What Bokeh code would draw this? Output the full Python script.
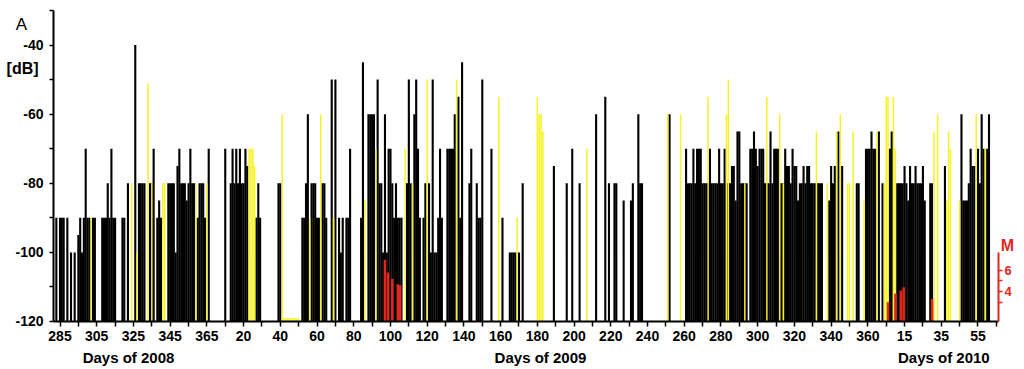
from bokeh.plotting import figure
from bokeh.models import Range1d, LinearAxis, FixedTicker, Label, ColumnDataSource
from bokeh.embed import file_html
from bokeh.resources import INLINE

# day index: 0 = day 285 of 2008, 100 = day 20 of 2009, 460 = day 15 of 2010
black_bars = [
    (-2, -90), (0, -90), (1, -90), (2, -90), (4, -90), (6, -100), (8, -100),
    (10, -95), (11, -90), (12, -100), (13, -90), (14, -70), (15, -90), (16, -90),
    (18, -90), (19, -90), (23, -90), (24, -90), (25, -90), (26, -80), (27, -90),
    (28, -70), (29, -90), (30, -90), (34, -90), (35, -90), (37, -80), (41, -40),
    (43, -80), (44, -80), (45, -80), (46, -80), (49, -80), (50, -80), (51, -70),
    (53, -90), (54, -85), (55, -90), (59, -80), (60, -80), (61, -80), (62, -80), (63, -100),
    (64, -75), (65, -70), (66, -80), (67, -80), (68, -80), (69, -85), (70, -80),
    (71, -70), (72, -80), (73, -80), (75, -90), (76, -80), (77, -80), (78, -80), (79, -90),
    (81, -70), (90, -70), (93, -80), (94, -70), (95, -80), (96, -70), (97, -80),
    (98, -70), (99, -80), (100, -80), (101, -70), (102, -75), (107, -90), (108, -80),
    (109, -90), (119, -80), (120, -80), (132, -90), (133, -90), (134, -80), (135, -60),
    (137, -80), (138, -80), (139, -80), (140, -90), (141, -90), (143, -80), (144, -80),
    (145, -90), (148, -50), (150, -50), (152, -90), (153, -100), (154, -90), (156, -90),
    (157, -90), (158, -70), (164, -90), (165, -45), (168, -60), (169, -60), (170, -60),
    (171, -60), (173, -50), (174, -80), (175, -80), (176, -100), (177, -60), (178, -100),
    (179, -70), (180, -70), (181, -80), (182, -90), (183, -80), (184, -90), (185, -90),
    (186, -90), (189, -80), (190, -50), (191, -80), (193, -60), (194, -50), (195, -70),
    (196, -90), (198, -90), (199, -80), (201, -80), (202, -100), (203, -50), (204, -100),
    (205, -100), (206, -90), (207, -70), (208, -90), (211, -70), (212, -70), (213, -70),
    (214, -70), (215, -60), (217, -55), (218, -90), (219, -45), (223, -80), (224, -70),
    (227, -80), (228, -90), (229, -90), (230, -50), (235, -70), (241, -90), (245, -100),
    (246, -100), (247, -100), (248, -100), (250, -100), (252, -80), (269, -75), (276, -80),
    (279, -70), (283, -80), (292, -60), (297, -55), (299, -80), (302, -80), (303, -80),
    (307, -85), (311, -85), (312, -80), (315, -60), (316, -80), (317, -80), (332, -60),
    (341, -70), (342, -80), (343, -80), (344, -80), (345, -70), (346, -80), (347, -70),
    (348, -70), (349, -70), (350, -80), (351, -80), (352, -80), (353, -80), (354, -70),
    (355, -80), (356, -80), (357, -80), (358, -80), (359, -70), (360, -80), (361, -80),
    (362, -70), (363, -80), (364, -80), (365, -80), (366, -75), (367, -75), (368, -85),
    (369, -65), (370, -65), (371, -80), (372, -80), (373, -80), (374, -80), (376, -70),
    (377, -70), (378, -65), (379, -70), (380, -75), (381, -70), (382, -70), (383, -70),
    (384, -80), (385, -80), (386, -80), (387, -65), (388, -80), (389, -70), (390, -70),
    (391, -70), (392, -80), (393, -80), (394, -80), (395, -70), (396, -75), (397, -75),
    (398, -80), (399, -70), (400, -75), (401, -75), (402, -85), (403, -80), (404, -80),
    (405, -75), (406, -80), (407, -75), (408, -75), (409, -80), (410, -80), (411, -80),
    (412, -80), (413, -80), (414, -80), (415, -80), (419, -85), (420, -75), (421, -80),
    (422, -75), (424, -65), (426, -75),
    (434, -80), (435, -80), (439, -70), (440, -70), (441, -70), (442, -65), (443, -70),
    (444, -70), (446, -65), (448, -80), (452, -70), (453, -65), (456, -80), (457, -80),
    (458, -80), (459, -80), (460, -75), (461, -80), (462, -85), (463, -75), (464, -80),
    (465, -80), (466, -75), (467, -80), (468, -80), (469, -80), (470, -75), (471, -85),
    (474, -80), (475, -80), (482, -75), (491, -60), (492, -85), (493, -85), (494, -85),
    (495, -80), (496, -70), (497, -75), (498, -75), (500, -70), (501, -80), (502, -60),
    (503, -70), (505, -70), (506, -60),
]

yellow_bars = [
    (17, -90), (39, -80), (42, -100), (48, -51), (50, -80), (56, -80), (57, -80),
    (74, -80), (80, -80), (103, -70), (104, -70), (105, -70), (106, -75), (121, -60),
    (122, -119), (123, -119), (124, -119), (125, -119), (126, -119), (127, -119),
    (128, -119), (129, -119), (130, -119), (136, -90), (142, -60), (149, -90),
    (166, -85), (172, -70), (188, -70), (192, -80), (200, -50), (216, -50), (239, -55),
    (249, -90), (260, -55), (261, -60), (262, -60), (263, -65), (287, -70), (331, -60),
    (338, -60), (353, -55), (363, -60), (364, -50), (373, -80), (385, -55), (392, -60),
    (394, -80), (412, -65), (418, -80), (423, -65), (425, -60), (429, -80), (430, -80),
    (432, -65), (438, -85), (445, -65), (449, -80), (450, -55), (451, -55), (454, -55),
    (455, -70), (476, -65), (478, -60), (483, -85), (484, -65), (485, -70), (490, -85),
    (499, -60), (504, -70),
]

quakes = [
    (177, 7.0), (178.6, 5.8), (181, 5.2), (184, 4.7), (185.3, 4.6),
    (451, 3.0), (455, 3.8), (458, 4.1), (459.5, 4.4), (475, 3.3),
]

x_tick_days = list(range(0, 511, 10))
x_tick_labels = {0: "285", 20: "305", 40: "325", 60: "345", 80: "365",
                 100: "20", 120: "40", 140: "60", 160: "80", 180: "100",
                 200: "120", 220: "140", 240: "160", 260: "180", 280: "200",
                 300: "220", 320: "240", 340: "260", 360: "280", 380: "300",
                 400: "320", 420: "340", 440: "360", 460: "15", 480: "35", 500: "55"}
y_ticks = list(range(-120, -29, 10))
y_tick_labels = {-40: "-40", -60: "-60", -80: "-80", -100: "-100", -120: "-120"}
mag_ticks = [3, 4, 5, 6]
mag_tick_labels = {4: "4", 6: "6"}
year_titles = [(37.3, "Days of 2008"), (261.7, "Days of 2009"), (481.4, "Days of 2010")]

FONT = "Liberation Sans"
RED = "#E3261C"
YELLOW = "#F8F21E"

X_LO, X_HI = -3.54, 511.2      # extent of the drawn axes
DB_LO, DB_HI = -120, -30
M_LO, M_HI = 1.18, 7.72

p = figure(width=1024, height=369, x_range=Range1d(-32.41, 525.33),
           y_range=Range1d(-133.89, -27.12),
           output_backend="svg", toolbar_location=None)
p.min_border = 0
p.min_border_left = 0
p.min_border_right = 0
p.min_border_top = 0
p.min_border_bottom = 0
p.outline_line_color = None
p.grid.visible = False
p.background_fill_color = "white"
p.extra_y_ranges = {"mag": Range1d(-3.35, 31.46)}

bsrc = ColumnDataSource(dict(x=[b[0] for b in black_bars], top=[b[1] for b in black_bars]))
ysrc = ColumnDataSource(dict(x=[b[0] for b in yellow_bars], top=[b[1] for b in yellow_bars]))
qsrc = ColumnDataSource(dict(x=[q[0] for q in quakes], top=[q[1] for q in quakes]))

p.vbar(x="x", top="top", bottom=DB_LO, width=1.15, source=bsrc, fill_color="black", line_color=None)
p.vbar(x="x", top="top", bottom=DB_LO, width=0.8, source=ysrc, fill_color=YELLOW, line_color=None)
p.vbar(x="x", top="top", bottom=M_LO, width=1.4, source=qsrc, fill_color=RED, line_color=None,
       y_range_name="mag")

for ax in (p.xaxis[0], p.yaxis[0]):
    ax.axis_line_width = 2
    ax.axis_line_color = "black"
    ax.major_tick_line_width = 1.5
    ax.major_tick_in = 0
    ax.major_tick_out = 5
    ax.minor_tick_line_color = None
    ax.major_label_text_font = FONT
    ax.major_label_text_font_style = "bold"
    ax.major_label_text_font_size = "14px"
    ax.major_label_text_color = "black"

xa = p.xaxis[0]
xa.fixed_location = DB_LO
xa.bounds = (X_LO, X_HI)
xa.ticker = FixedTicker(ticks=x_tick_days)
xa.major_label_overrides = {t: x_tick_labels.get(t, "") for t in x_tick_days}
xa.major_label_standoff = 5

ya = p.yaxis[0]
ya.fixed_location = X_LO
ya.bounds = (DB_LO, DB_HI)
ya.ticker = FixedTicker(ticks=y_ticks)
ya.major_label_overrides = {t: y_tick_labels.get(t, "") for t in y_ticks}
ya.major_tick_out = 4
ya.major_label_standoff = 6

mag_axis = LinearAxis(y_range_name="mag", bounds=(M_LO, M_HI), fixed_location=X_HI,
                      ticker=FixedTicker(ticks=mag_ticks),
                      major_label_overrides={t: mag_tick_labels.get(t, "") for t in mag_ticks},
                      axis_line_color=RED, axis_line_width=2,
                      major_tick_line_color=RED, major_tick_line_width=1.5,
                      major_tick_in=0, major_tick_out=4, minor_tick_line_color=None,
                      major_label_text_color=RED, major_label_text_font=FONT,
                      major_label_text_font_style="bold", major_label_text_font_size="13px",
                      major_label_standoff=2)
p.add_layout(mag_axis, "right")

p.add_layout(Label(x=516, y=8.35, y_range_name="mag", text="M", text_color=RED,
                   text_font=FONT, text_font_style="bold", text_font_size="16px",
                   text_align="center", text_baseline="middle"))
p.add_layout(Label(x=-21, y=-34.1, text="A", text_color="black", text_font=FONT,
                   text_font_size="17px", text_align="center", text_baseline="middle"))
p.add_layout(Label(x=-20.4, y=-46.8, text="[dB]", text_color="black", text_font=FONT,
                   text_font_style="bold", text_font_size="16px",
                   text_align="center", text_baseline="middle"))
for xpos, txt in year_titles:
    p.add_layout(Label(x=xpos, y=-130.4, text=txt, text_color="black", text_font=FONT,
                       text_font_style="bold", text_font_size="15px",
                       text_align="center", text_baseline="middle"))

open("out.html", "w").write(file_html(p, INLINE))
